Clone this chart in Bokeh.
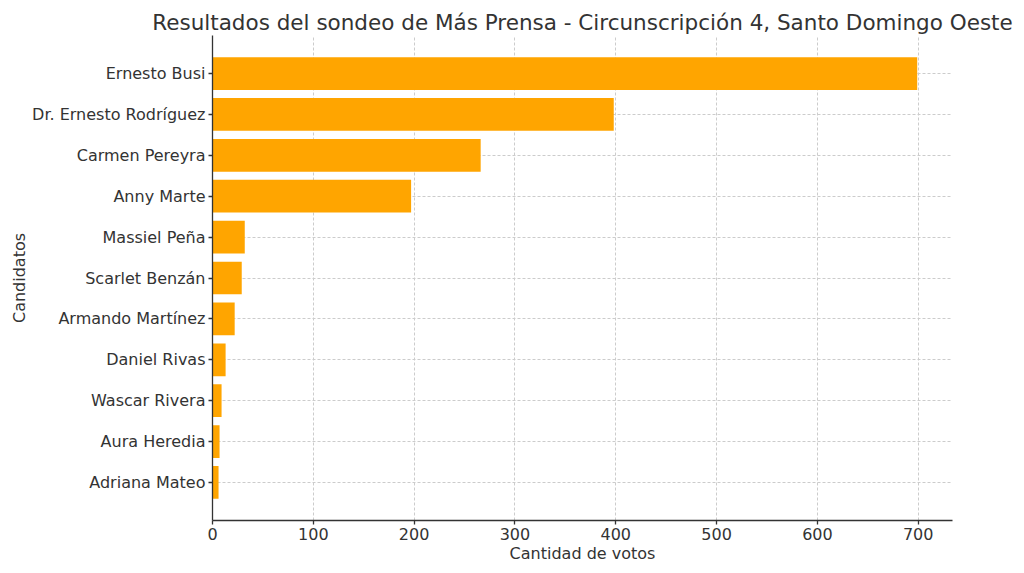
from bokeh.plotting import figure
from bokeh.models import Range1d, FixedTicker, ColumnDataSource
from bokeh.embed import file_html
from bokeh.resources import INLINE

titulo = "Resultados del sondeo de Más Prensa - Circunscripción 4, Santo Domingo Oeste"
candidatos = ["Ernesto Busi", "Dr. Ernesto Rodríguez", "Carmen Pereyra", "Anny Marte",
              "Massiel Peña", "Scarlet Benzán", "Armando Martínez", "Daniel Rivas",
              "Wascar Rivera", "Aura Heredia", "Adriana Mateo"]
votos = [699, 398, 266, 197, 32, 29, 22, 13, 9, 7, 6]
x_ticks = [0, 100, 200, 300, 400, 500, 600, 700]

n = len(candidatos)
pos = [n - 1 - i for i in range(n)]
src = ColumnDataSource(dict(y=pos, v=votos, name=candidatos))

FONT = "DejaVu Sans"
TXT = "#333333"

p = figure(width=1016, height=565,
           min_border_left=212, min_border_right=64,
           min_border_top=35, min_border_bottom=45,
           x_range=Range1d(0, 734), y_range=Range1d(-0.93, n - 1 + 0.93),
           output_backend="svg", toolbar_location=None, title=titulo)

p.hbar(y="y", right="v", left=0, height=0.8, source=src,
       fill_color="#FFA500", line_color=None)

p.title.text_font = FONT
p.title.text_font_size = "21.5px"
p.title.text_font_style = "normal"
p.title.text_color = TXT
p.title.align = "center"
p.title.standoff = 2
p.title.offset = 0

p.outline_line_color = None
p.background_fill_color = "white"
p.border_fill_color = "white"

p.xaxis.ticker = FixedTicker(ticks=x_ticks)
p.yaxis.ticker = FixedTicker(ticks=pos)
p.yaxis.major_label_overrides = {pp: c for pp, c in zip(pos, candidatos)}

for ax in (p.xaxis[0], p.yaxis[0]):
    ax.axis_line_color = TXT
    ax.axis_line_width = 1.3
    ax.major_tick_line_color = TXT
    ax.major_tick_line_width = 1.3
    ax.major_tick_out = 4
    ax.major_tick_in = 0
    ax.minor_tick_line_color = None
    ax.major_label_text_font = FONT
    ax.major_label_text_font_size = "16px"
    ax.major_label_text_color = TXT
    ax.axis_label_text_font = FONT
    ax.axis_label_text_font_size = "16px"
    ax.axis_label_text_font_style = "normal"
    ax.axis_label_text_color = TXT

p.xaxis.axis_label = "Cantidad de votos"
p.yaxis.axis_label = "Candidatos"
p.xaxis.major_label_standoff = 3
p.yaxis.major_label_standoff = 3
p.xaxis.axis_label_standoff = 1
p.yaxis.axis_label_standoff = 0

for g in (p.xgrid[0], p.ygrid[0]):
    g.grid_line_color = "#cccccc"
    g.grid_line_dash = "3 2"
    g.grid_line_width = 1

open("out.html", "w").write(file_html(p, INLINE))
